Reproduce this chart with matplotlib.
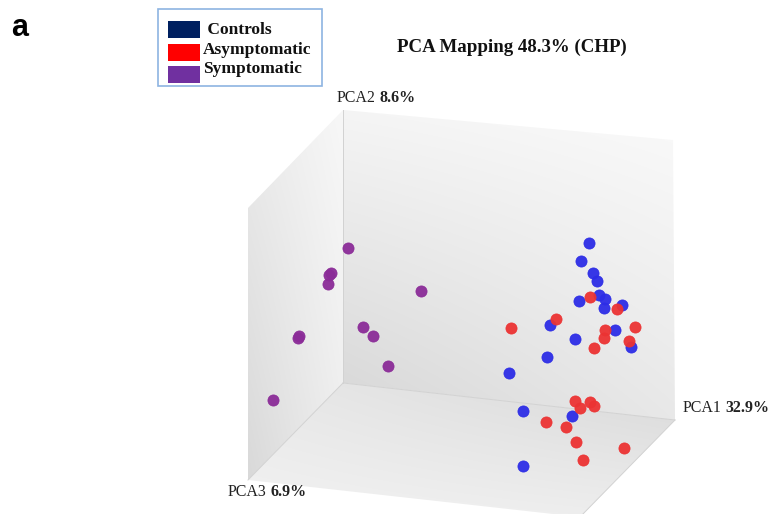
import matplotlib.pyplot as plt
import numpy as np
from matplotlib.patches import Polygon, Rectangle

# groups and their colours
groups = [' Controls', 'Asymptomatic', 'Symptomatic']
legend_colors = ['#002060', '#ff0000', '#7030a0']
point_colors = ['#2d2de6', '#ec3333', '#8b2c98']

# projected PCA scores (screen position inside the box)
controls_x = [589, 581, 593, 597, 599, 605, 604, 579, 622, 550, 615, 575, 631, 547,
              509, 523, 572, 523]
controls_y = [243, 261, 273, 281, 295, 299, 308, 301, 305, 325, 330, 339, 347, 357,
              373, 411, 416, 466]
asympt_x = [590, 617, 556, 511, 605, 635, 604, 629, 594,
            575, 580, 590, 594, 546, 566, 576, 624, 583]
asympt_y = [297, 309, 319, 328, 330, 327, 338, 341, 348,
            401, 408, 402, 406, 422, 427, 442, 448, 460]
sympt_x = [348, 329, 331, 328, 421, 298, 299, 363, 373, 388, 273]
sympt_y = [248, 275, 273, 284, 291, 338, 336, 327, 336, 366, 400]

# box corners
back_wall = [(343, 110), (673, 140), (675, 420), (343, 383)]
left_wall = [(248, 208), (343, 110), (343, 383), (248, 480)]
floor = [(248, 480), (343, 383), (675, 420), (580, 517)]

fig = plt.figure(figsize=(7.73, 5.14), dpi=100)
ax = fig.add_axes([0, 0, 1, 1])


def shade(ax, corners, tl, tr, bl, br):
    # bilinear grey gradient clipped to a face of the box
    xs = [c[0] for c in corners]
    ys = [c[1] for c in corners]
    x0, x1, y0, y1 = min(xs), max(xs), min(ys), max(ys)
    u = np.linspace(0, 1, 200)[None, :]
    v = np.linspace(0, 1, 200)[:, None]
    g = (tl * (1 - u) * (1 - v) + tr * u * (1 - v) + bl * (1 - u) * v + br * u * v)
    img = np.dstack([g, g, g])
    poly = Polygon(corners, closed=True, facecolor='none', edgecolor='none')
    ax.add_patch(poly)
    im = ax.imshow(img, extent=(x0, x1, y1, y0), origin='upper', aspect='auto',
                   interpolation='bilinear', zorder=1)
    im.set_clip_path(poly)


shade(ax, back_wall, 0.96, 0.98, 0.84, 0.91)
shade(ax, left_wall, 0.92, 0.97, 0.85, 0.93)
shade(ax, floor, 0.91, 0.85, 0.95, 0.93)

# faint edges between the faces
for a, b in [((343, 110), (343, 383)), ((343, 383), (248, 480)),
             ((343, 383), (675, 420)), ((675, 420), (580, 517))]:
    ax.plot([a[0], b[0]], [a[1], b[1]], color='#d2d2d2', lw=0.7, zorder=2)

for xs, ys, c in [(sympt_x, sympt_y, point_colors[2]),
                  (controls_x, controls_y, point_colors[0]),
                  (asympt_x, asympt_y, point_colors[1])]:
    ax.scatter(xs, ys, s=64, color=c, edgecolors=c, linewidths=0.6,
               alpha=0.95, zorder=3)

serif = 'Liberation Serif'

# axis names with bold variance
for x, y, name, pct in [(337, 98, 'PCA2', '8.6%'),
                        (683, 408, 'PCA1', '32.9%'),
                        (228, 492, 'PCA3', '6.9%')]:
    t = ax.text(x, y, name, family=serif, fontsize=11.5, va='center', ha='left',
                color='#222222', zorder=4)
    ax.annotate(pct, xy=(1, 0.5), xycoords=t, xytext=(2.5, 0),
                textcoords='offset points', family=serif, fontsize=11.5,
                fontweight='bold', va='center', ha='left', color='#222222', zorder=4)

ax.text(512, 47, 'PCA Mapping 48.3% (CHP)', family=serif, fontsize=13.6,
        fontweight='bold', ha='center', va='center', color='#111111')
ax.text(11, 28, 'a', family='Liberation Sans', fontsize=22, fontweight='bold',
        ha='left', va='center', color='black')

# legend box
ax.add_patch(Rectangle((158, 9), 164, 77, facecolor='white', edgecolor='#8db4e2',
                       lw=1.2, zorder=5))
label_y = [30, 50, 69]
for i, (g, c) in enumerate(zip(groups, legend_colors)):
    top = 21 + i * 22.5
    ax.add_patch(Rectangle((168, top), 32, 17, facecolor=c, edgecolor='none', zorder=6))
    ax.text(203, label_y[i], g, family=serif, fontsize=12.5, fontweight='bold',
            ha='left', va='center', color='#111111', zorder=6)

ax.set_xlim(0, 773)
ax.set_ylim(514, 0)
ax.axis('off')

fig.savefig('out.png', dpi=100)
